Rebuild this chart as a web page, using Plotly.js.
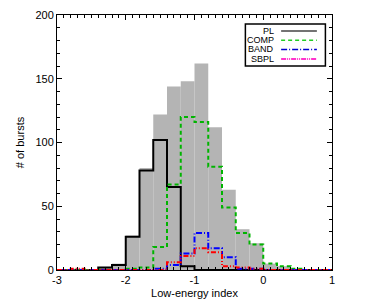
<!DOCTYPE html>
<html><head><meta charset="utf-8">
<script src="https://cdn.plot.ly/plotly-3.0.1.min.js"></script>
<style>html,body{margin:0;padding:0;background:#fff;}#chart{width:369px;height:301px;}</style>
</head><body><div id="chart"></div>
<script>
const binLower = [-3.0,-2.8,-2.6,-2.4,-2.2,-2.0,-1.8,-1.6,-1.4,-1.2,-1.0,-0.8,-0.6,-0.4,-0.2,0.0,0.2,0.4,0.6,0.8];
const binWidth = 0.2;
const total = [0,1,0,2,5,27,80,122,144,148,162,112,63,32,21,5,3,1,0,0];
const pl    = [0,0,0,2,4,26,78,102,65,3,0,0,0,0,0,0,0,0,0,0];
const comp  = [0,0,0,0,0,1,2,18,67,120,116,81,49,29,20,5,3,1,0,0];
const band  = [0,0,0,0,0,0,0,1,4,13,29,17,10,1,1,0,0,0,0,0];
const sbpl  = [0,1,0,0,0,0,0,0,6,11,17,14,3,2,1,0,0,0,0,0];
const seriesNames = ['PL','COMP','BAND','SBPL'];
const xTicks = [-3,-2,-1,0,1];
const yTicks = [0,50,100,150,200];

const edges = binLower.concat([binLower[binLower.length-1]+binWidth]);
function step(v){ return v.concat([v[v.length-1]]); }
const centers = binLower.map(b=>b+binWidth/2);

const fam = '"Liberation Sans", Arial, Helvetica, sans-serif';
const font = {family:fam, size:11, color:'#000'};
const styles = [
  {color:'#000', width:2, dash:'solid'},
  {color:'#00b400', width:2, dash:'4px,3px'},
  {color:'#0000ff', width:2, dash:'6px,2px,1px,2px'},
  {color:'#ff0000', width:2, dash:'5px,2px,1px,2px,1px,2px'}
];
const legStyles = [
  {color:'#444', width:1.5, dash:'solid'},
  {color:'#22cc22', width:1.5, dash:'4px,3px'},
  {color:'#0000cc', width:1.5, dash:'6px,2px,1px,2px'},
  {color:'#ff33cc', width:2, dash:'5px,1px,1px,1px,1px,1px'}
];
const seriesVals = [pl, comp, band, sbpl];
const traces = [
  {type:'bar', x:centers, y:total, width:binWidth, marker:{color:'rgb(180,180,180)', line:{width:0}}, showlegend:false, hoverinfo:'skip'}
];
seriesVals.forEach((v,i)=>traces.push({type:'scatter', mode:'lines', name:seriesNames[i], x:edges, y:step(v),
  line:Object.assign({shape:'hv'}, styles[i]), showlegend:false}));

// custom legend (text left of sample line), in paper coordinates
const legRows = [0.937, 0.901, 0.865, 0.827];
const shapes = [{type:'rect', xref:'paper', yref:'paper', x0:0.685, x1:0.976, y0:0.80, y1:0.965,
  line:{color:'#000', width:1.5}, fillcolor:'#fff', layer:'above'}];
const annotations = [];
seriesNames.forEach((n,i)=>{
  shapes.push({type:'line', xref:'paper', yref:'paper', x0:0.815, x1:0.945, y0:legRows[i], y1:legRows[i], line:legStyles[i], layer:'above'});
  annotations.push({xref:'paper', yref:'paper', x:0.797, y:legRows[i], xanchor:'right', yanchor:'middle', text:n, showarrow:false,
    font:{family:fam, size:9, color:'#000'}});
});

const axBase = {showgrid:false, zeroline:false, showline:true, linecolor:'#000', linewidth:1, mirror:'allticks', ticks:'inside', tickcolor:'#000', ticklen:5, tickfont:font};
const layout = {
  width:369, height:301, margin:{l:57, r:37, t:15, b:31},
  paper_bgcolor:'#fff', plot_bgcolor:'#fff', font:font, barmode:'overlay',
  xaxis: Object.assign({}, axBase, {range:[-3,1], tickvals:xTicks, ticktext:xTicks.map(String),
     minor:{dtick:0.1, ticklen:3, ticks:'inside', tickcolor:'#000', showgrid:false},
     title:{text:'Low-energy index', font:font, standoff:4}}),
  yaxis: Object.assign({}, axBase, {range:[0,200], tickvals:yTicks, ticktext:yTicks.map(String),
     minor:{dtick:10, ticklen:3, ticks:'inside', tickcolor:'#000', showgrid:false},
     title:{text:'# of bursts', font:font, standoff:8}}),
  shapes:shapes, annotations:annotations, showlegend:false
};
Plotly.newPlot('chart', traces, layout, {staticPlot:true, displayModeBar:false});
</script></body></html>
